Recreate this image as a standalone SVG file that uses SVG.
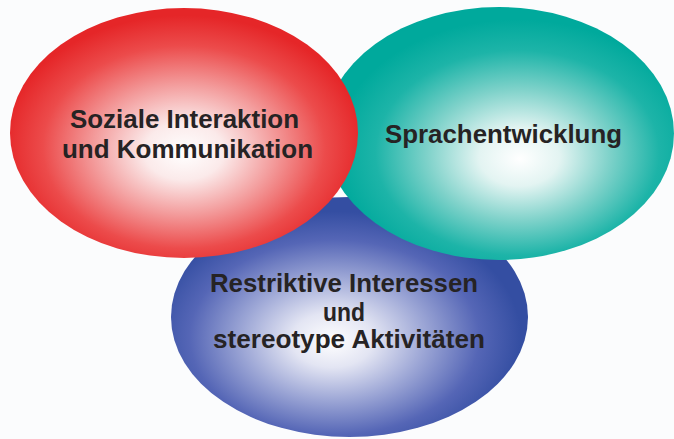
<svg xmlns="http://www.w3.org/2000/svg" width="674" height="439" viewBox="0 0 674 439">
  <style>
    .lbl { font-family: "Liberation Sans", Arial, sans-serif; font-weight: bold; font-size: 25px; fill: #262324; text-anchor: middle; }
  </style>
  <defs>
    <radialGradient id="gRed" cx="50%" cy="55%" r="52%" fx="50%" fy="58%">
      <stop offset="0" stop-color="#ffffff"/>
      <stop offset="0.22" stop-color="#fbeaea"/>
      <stop offset="0.5" stop-color="#f39c9c"/>
      <stop offset="0.78" stop-color="#ec4b4b"/>
      <stop offset="1" stop-color="#e52628"/>
    </radialGradient>
    <radialGradient id="gTeal" cx="55%" cy="57%" r="52%" fx="56%" fy="60%">
      <stop offset="0" stop-color="#ffffff"/>
      <stop offset="0.22" stop-color="#e3f4f2"/>
      <stop offset="0.5" stop-color="#7fd2ca"/>
      <stop offset="0.78" stop-color="#1db4a8"/>
      <stop offset="1" stop-color="#00a99c"/>
    </radialGradient>
    <radialGradient id="gBlue" cx="46%" cy="58%" r="52%" fx="45%" fy="60%">
      <stop offset="0" stop-color="#ffffff"/>
      <stop offset="0.22" stop-color="#e3e5f3"/>
      <stop offset="0.5" stop-color="#9ba5d5"/>
      <stop offset="0.78" stop-color="#5566b6"/>
      <stop offset="1" stop-color="#344ea2"/>
    </radialGradient>
  </defs>
  <rect width="674" height="439" fill="#fbfcfd"/>

  <g id="node-restriktive">
    <ellipse cx="349.5" cy="317" rx="178.5" ry="120" fill="url(#gBlue)"/>
    <text class="lbl" x="344" y="292" textLength="268" lengthAdjust="spacingAndGlyphs">Restriktive Interessen</text>
    <text class="lbl" x="344" y="321" textLength="42" lengthAdjust="spacingAndGlyphs">und</text>
    <text class="lbl" x="349" y="348" textLength="272" lengthAdjust="spacingAndGlyphs">stereotype Aktivitäten</text>
  </g>

  <g id="node-sprache">
    <ellipse cx="499" cy="133.5" rx="175" ry="126.5" fill="url(#gTeal)"/>
    <text class="lbl" x="503.5" y="143" textLength="237" lengthAdjust="spacingAndGlyphs">Sprachentwicklung</text>
  </g>

  <g id="node-sozial">
    <ellipse cx="184" cy="133" rx="174" ry="125" fill="url(#gRed)"/>
    <text class="lbl" x="184.5" y="128" textLength="229" lengthAdjust="spacingAndGlyphs">Soziale Interaktion</text>
    <text class="lbl" x="187.5" y="158" textLength="251" lengthAdjust="spacingAndGlyphs">und Kommunikation</text>
  </g>
</svg>
